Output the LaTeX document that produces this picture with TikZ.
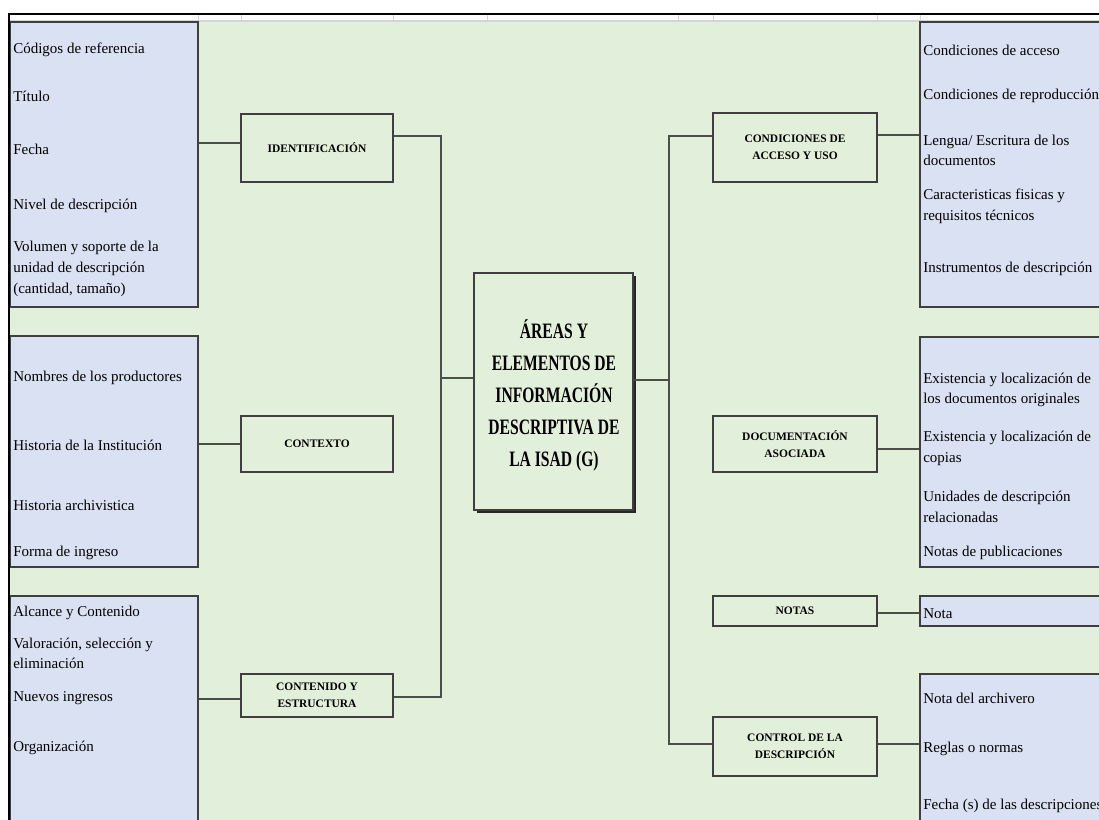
\documentclass[tikz,border=0pt]{standalone}
\usepackage{fontspec}
\setmainfont{Liberation Serif}
\newfontfamily\titlefont[FakeStretch=0.71]{Liberation Serif}
\usetikzlibrary{fit}
\definecolor{bggreen}{HTML}{E2EFDA}
\definecolor{itemblue}{HTML}{D9E1F2}
\definecolor{boxline}{HTML}{3F3F3F}
\definecolor{connline}{HTML}{4A4F48}
\definecolor{gridgray}{HTML}{D4D4D4}
\newcommand{\itemfont}{\fontsize{11.25pt}{15.5pt}\selectfont}
\newcommand{\catfont}{\fontsize{8.6pt}{12.75pt}\selectfont\bfseries}
\newcommand{\bigtitlefont}{\fontsize{16.5pt}{24pt}\selectfont\titlefont\bfseries}
\begin{document}
\begin{tikzpicture}[x=0.75pt,y=-0.75pt,
  itembox/.style={draw=boxline,fill=itemblue,line width=1pt,inner sep=0pt},
  catbox/.style={draw=boxline,fill=bggreen,line width=1pt,inner sep=0pt},
  catlabel/.style={inner sep=0pt,align=center,font=\catfont},
  item/.style={anchor=west,inner sep=0pt,align=left,font=\itemfont,yshift=-1pt},
  conn/.style={draw=connline,line width=1pt},
  tick/.style={draw=gridgray,line width=0.6pt}]
\useasboundingbox (0,0) rectangle (1099,820);
% background
\fill[white] (0,0) rectangle (1099,820);
\fill[bggreen] (10,21) rectangle (1099,820);
\draw[gridgray,line width=0.8pt] (10,21) -- (1099,21);
\foreach \gx in {198,241,393,487,678,713,877,920}{\draw[tick] (\gx,15) -- (\gx,21);}
% left item boxes
\node[itembox,fit={(10,22) (198,307)}] (L1) {};
\node[itembox,fit={(10,336) (198,567)}] (L2) {};
\node[itembox,fit={(10,596) (198,824)}] (L3) {};
% right item boxes
\node[itembox,fit={(920,22) (1104,307)}] (R1) {};
\node[itembox,fit={(920,337) (1104,567)}] (R2) {};
\node[itembox,fit={(920,596) (1104,626)}] (R3) {};
\node[itembox,fit={(920,674) (1104,824)}] (R4) {};
% category boxes
\node[catbox,fit={(241,114) (393,182)}] (C1) {};
\node[catbox,fit={(241,416) (393,472)}] (C2) {};
\node[catbox,fit={(241,674) (393,717)}] (C3) {};
\node[catbox,fit={(713,113) (877,182)}] (D1) {};
\node[catbox,fit={(713,416) (877,472)}] (D2) {};
\node[catbox,fit={(713,596) (877,626)}] (D3) {};
\node[catbox,fit={(713,717) (877,776)}] (D4) {};
\node[catlabel] (C1t) at (C1.center) {IDENTIFICACIÓN};
\node[catlabel] (C2t) at (C2.center) {CONTEXTO};
\node[catlabel] (C3t) at (C3.center) {CONTENIDO Y\\ESTRUCTURA};
\node[catlabel] (D1t) at (D1.center) {CONDICIONES DE\\ACCESO Y USO};
\node[catlabel] (D2t) at (D2.center) {DOCUMENTACIÓN\\ASOCIADA};
\node[catlabel] (D3t) at (D3.center) {NOTAS};
\node[catlabel] (D4t) at (D4.center) {CONTROL DE LA\\DESCRIPCIÓN};
% central box with shadow
\fill[black!85] (477,276) rectangle (636,513);
\node[catbox,fit={(474,273) (633,510)}] (M) {};
\node[inner sep=0pt,align=center,font=\bigtitlefont] (T) at (554,395)
  {ÁREAS Y\\ELEMENTOS DE\\INFORMACIÓN\\DESCRIPTIVA DE\\LA ISAD (G)};
% left items
\node[item] (a1) at (13,49) {Códigos de referencia};
\node[item] (a2) at (13,95) {Título};
\node[item] (a3) at (13,148) {Fecha};
\node[item] (a4) at (13,205) {Nivel de descripción};
\node[item,font=\fontsize{11.25pt}{15.75pt}\selectfont] (a5) at (13,268) {Volumen y soporte de la\\unidad de descripción\\(cantidad, tamaño)};
\node[item] (b1) at (13,377) {Nombres de los productores};
\node[item] (b2) at (13,444) {Historia de la Institución};
\node[item] (b3) at (13,504) {Historia archivistica};
\node[item] (b4) at (13,552) {Forma de ingreso};
\node[item] (c1) at (13,612) {Alcance y Contenido};
\node[item] (c2) at (13,652) {Valoración, selección y\\eliminación};
\node[item] (c3) at (13,697) {Nuevos ingresos};
\node[item] (c4) at (13,747) {Organización};
% right items
\node[item] (r1) at (923,49) {Condiciones de acceso};
\node[item] (r2) at (923,95) {Condiciones de reproducción};
\node[item] (r3) at (923,149) {Lengua/ Escritura de los\\documentos};
\node[item] (r4) at (923,205) {Caracteristicas fisicas y\\requisitos técnicos};
\node[item] (r5) at (923,268) {Instrumentos de descripción};
\node[item] (s1) at (923,388.5) {Existencia y localización de\\los documentos originales};
\node[item] (s2) at (923,447) {Existencia y localización de\\copias};
\node[item] (s3) at (923,505.5) {Unidades de descripción\\relacionadas};
\node[item] (s4) at (923,552) {Notas de publicaciones};
\node[item] (t1) at (923,612) {Nota};
\node[item] (u1) at (923,697) {Nota del archivero};
\node[item] (u2) at (923,748) {Reglas o normas};
\node[item] (u3) at (923,805) {Fecha (s) de las descripciones};
% connector coordinates
\coordinate (k1) at (241,143);
\coordinate (k2) at (241,444);
\coordinate (k3) at (241,699);
\coordinate (j1) at (441,136);
\coordinate (j3) at (441,697);
\coordinate (j0) at (441,378);
\coordinate (q1) at (669,136);
\coordinate (q4) at (669,744);
\coordinate (q0) at (669,380);
\coordinate (p1) at (920,135);
\coordinate (p2) at (920,449);
\coordinate (p3) at (920,613);
\coordinate (p4) at (920,744);
% left connectors
\draw[conn] (k1 -| L1.east) -- (k1 -| C1.west);
\draw[conn] (k2 -| L2.east) -- (k2 -| C2.west);
\draw[conn] (k3 -| L3.east) -- (k3 -| C3.west);
\draw[conn] (j1 -| C1.east) -- (j1) -- (j3) -- (j3 -| C3.east);
\draw[conn] (j0) -- (j0 -| M.west);
% right connectors
\draw[conn] (q1 -| D1.west) -- (q1) -- (q4) -- (q4 -| D4.west);
\draw[conn] (q0 -| M.east) -- (q0);
\draw[conn] (p1 -| D1.east) -- (p1 -| R1.west);
\draw[conn] (p2 -| D2.east) -- (p2 -| R2.west);
\draw[conn] (p3 -| D3.east) -- (p3 -| R3.west);
\draw[conn] (p4 -| D4.east) -- (p4 -| R4.west);
% frame
\draw[black,line width=1.5pt] (8,14) -- (1099,14);
\draw[black,line width=1.5pt] (9,13.5) -- (9,820);
\end{tikzpicture}
\end{document}
